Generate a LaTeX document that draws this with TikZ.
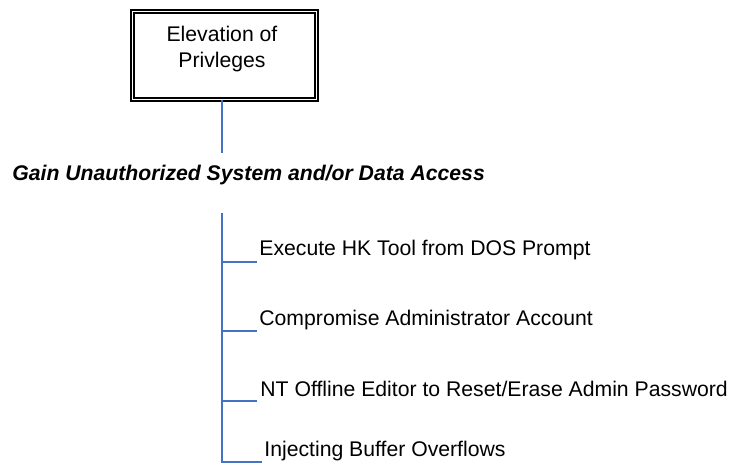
\documentclass[tikz,border=0pt]{standalone}
\usepackage{fontspec}
\setmainfont{Liberation Sans}
\definecolor{linkblue}{RGB}{68,114,196}
\begin{document}
\begin{tikzpicture}[x=0.5pt,y=-0.5pt,
        elevbox/.style={draw, double, line width=0.85pt, double distance=0.8pt, minimum width=92pt, minimum height=44pt, inner sep=0pt},
        branch/.style={linkblue, line width=0.75pt},
        item/.style={anchor=base west, inner sep=0pt, font=\fontsize{10.6}{12.5}\selectfont}]
    \useasboundingbox (0,0) rectangle (735,465);

    % Top goal box
    \node[elevbox] (priv) at (224.5,55.5) {};
    \node[align=center, inner sep=0pt, font=\fontsize{10.6}{13}\selectfont] (privtxt) at (222,49) {Elevation of\\Privleges};

    \coordinate (stem) at (222,153);
    \draw[branch] (stem |- priv.south) -- (stem);

    \node[anchor=base west, inner sep=0pt, font=\fontsize{10.6}{12.5}\selectfont\bfseries\itshape] (gain) at (12,181) {Gain Unauthorized System and/or Data Access};

    % Branch ticks
    \coordinate (trunk) at (222,213);
    \coordinate (t1) at (257,262); \coordinate (t2) at (257,331);
    \coordinate (t3) at (257,401); \coordinate (t4) at (262,462);

    \draw[branch] (trunk) |- (t4);
    \foreach \i in {1,2,3} \draw[branch] (trunk |- t\i) -- (t\i);

    \node[item] (i1) at (259,256) {Execute HK Tool from DOS Prompt};
    \node[item] (i2) at (259,326) {Compromise Administrator Account};
    \node[item] (i3) at (260,396) {NT Offline Editor to Reset/Erase Admin Password};
    \node[item] (i4) at (264,457) {Injecting Buffer Overflows};
\end{tikzpicture}
\end{document}
